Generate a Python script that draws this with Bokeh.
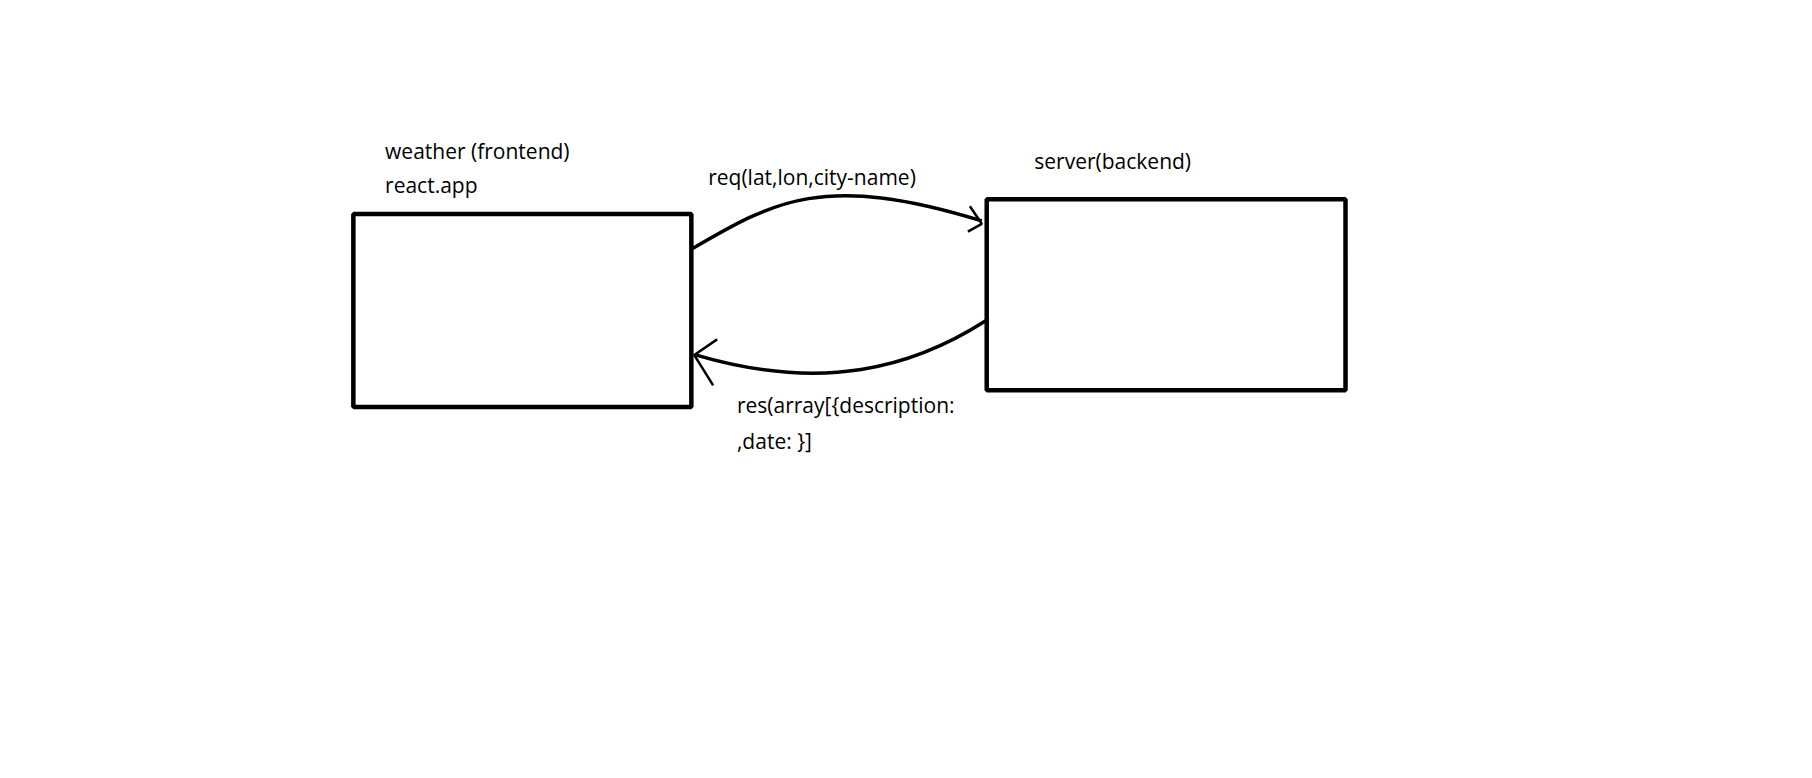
from bokeh.plotting import figure
from bokeh.models import Range1d
from bokeh.core.properties import value
from bokeh.embed import file_html
from bokeh.resources import INLINE

# boxes: left, right, top, bottom (image pixels, y down)
box_left = [356, 995]
box_right = [697, 1357]
box_top = [218, 203]
box_bottom = [415, 398]

labels = ["weather (frontend)", "react.app", "req(lat,lon,city-name)", "server(backend)",
          "res(array[{description:", ",date:     }]"]
label_x = [388, 388, 714, 1043, 743, 743]
label_y = [154, 188, 180, 164, 413, 450]

# arrows as cubic curves: start, control0, control1, end
curve_x0 = [697, 994]
curve_y0 = [254, 327]
curve_cx0 = [780, 920]
curve_cy0 = [205, 375]
curve_cx1 = [830, 830]
curve_cy1 = [175, 400]
curve_x1 = [990, 702]
curve_y1 = [225, 362]

# arrow heads: tip and two barb ends
head_x = [[978, 990, 976], [723, 700, 719]]
head_y = [[210, 228, 236], [346, 362, 393]]

p = figure(width=1796, height=762, output_backend="svg", toolbar_location=None,
           x_range=Range1d(0, 1812), y_range=Range1d(778, 0), min_border=0)
p.axis.visible = False
p.grid.visible = False
p.outline_line_color = None

p.quad(left=box_left, right=box_right, top=box_top, bottom=box_bottom,
       fill_color=None, line_color="black", line_width=4.5)
p.bezier(x0=curve_x0, y0=curve_y0, x1=curve_x1, y1=curve_y1,
         cx0=curve_cx0, cy0=curve_cy0, cx1=curve_cx1, cy1=curve_cy1,
         line_color="black", line_width=3.5)
p.multi_line(xs=head_x, ys=head_y, line_color="black", line_width=2.5)
p.text(x=label_x, y=label_y, text=labels, text_font=value("Open Sans"),
       text_font_size="21px", text_baseline="middle", text_color="black")

open("out.html", "w").write(file_html(p, INLINE))
